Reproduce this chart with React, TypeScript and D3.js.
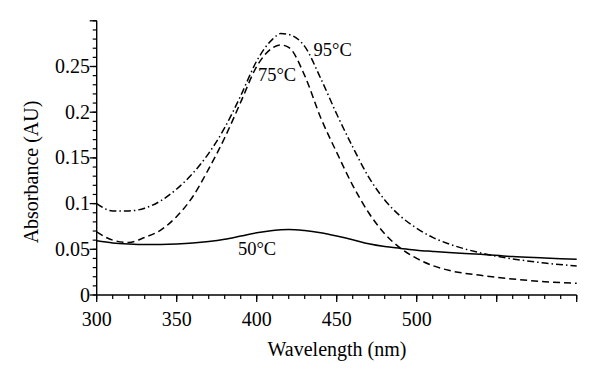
import React from "react";
import * as d3 from "d3";

const wavelengths = [300, 310, 320, 330, 340, 350, 360, 370, 380, 390, 400, 410, 415, 420, 430, 440, 450, 460, 470, 480, 490, 500, 510, 520, 540, 560, 580, 600];
const abs95 = [0.100, 0.092, 0.092, 0.095, 0.103, 0.116, 0.133, 0.155, 0.183, 0.218, 0.256, 0.280, 0.286, 0.285, 0.272, 0.237, 0.198, 0.162, 0.129, 0.104, 0.086, 0.073, 0.063, 0.056, 0.0460, 0.0395, 0.0350, 0.0317];
const abs75 = [0.069, 0.060, 0.0575, 0.063, 0.071, 0.086, 0.1075, 0.138, 0.172, 0.211, 0.250, 0.2705, 0.2735, 0.271, 0.240, 0.194, 0.156, 0.120, 0.090, 0.067, 0.051, 0.040, 0.0322, 0.027, 0.0215, 0.0175, 0.0145, 0.0128];
const abs50 = [0.0594, 0.057, 0.0558, 0.0552, 0.0553, 0.0558, 0.0568, 0.0585, 0.061, 0.0645, 0.068, 0.0705, 0.0715, 0.0718, 0.0705, 0.068, 0.0645, 0.0605, 0.056, 0.053, 0.051, 0.049, 0.0477, 0.0465, 0.0445, 0.042, 0.0405, 0.039];

const seriesNames = ["95°C", "75°C", "50°C"];
const xTickLabels = [300, 350, 400, 450, 500];
const yTickLabels = [0, 0.05, 0.1, 0.15, 0.2, 0.25];

const FONT = "'Liberation Serif', 'Times New Roman', serif";

export default function App() {
  const W = 600, H = 382;
  const x = d3.scaleLinear().domain([300, 600]).range([96.7, 576.7]);
  const y = d3.scaleLinear().domain([0, 0.3]).range([295, 20.8]);

  const mk = (vals: number[]) =>
    d3.line<number>()
      .x((_, i) => x(wavelengths[i]))
      .y((v) => y(v))
      .curve(d3.curveMonotoneX)(vals) || "";

  const series = [
    { name: seriesNames[0], vals: abs95, dash: "7,3,1.5,3" },
    { name: seriesNames[1], vals: abs75, dash: "7,4" },
    { name: seriesNames[2], vals: abs50, dash: "none" },
  ];

  const xMinor = d3.range(300, 601, 10);
  const xMajor = d3.range(300, 601, 50);
  const yMinor = d3.range(0, 31, 1).map((d) => d / 100);
  const yMajor = d3.range(0, 7, 1).map((d) => d * 0.05);

  const labelPos: Record<string, [number, number]> = {
    "95°C": [435.5, 0.261],
    "75°C": [400.8, 0.234],
    "50°C": [388.3, 0.044],
  };

  const tick = { fontFamily: FONT, fontSize: 20 } as React.CSSProperties;
  const title = { fontFamily: FONT, fontSize: 20 } as React.CSSProperties;
  const lab = { fontFamily: FONT, fontSize: 18.5 } as React.CSSProperties;

  return (
    <svg width={W} height={H} style={{ position: "absolute", left: 0, top: 0, background: "#fff" }}>
      <rect width={W} height={H} fill="#fff" />
      {series.map((s) => (
        <path key={s.name} d={mk(s.vals)} fill="none" stroke="#000" strokeWidth={1.5}
          strokeDasharray={s.dash === "none" ? undefined : s.dash} />
      ))}
      <line x1={x(300)} x2={x(600)} y1={y(0)} y2={y(0)} stroke="#000" strokeWidth={1.4} />
      <line x1={x(300)} x2={x(300)} y1={y(0)} y2={y(0.3)} stroke="#000" strokeWidth={1.4} />
      {xMinor.map((t) => (
        <line key={"xm" + t} x1={x(t)} x2={x(t)} y1={y(0)} y2={y(0) + 4} stroke="#000" strokeWidth={1.2} />
      ))}
      {xMajor.map((t) => (
        <line key={"xM" + t} x1={x(t)} x2={x(t)} y1={y(0)} y2={y(0) + 7} stroke="#000" strokeWidth={1.3} />
      ))}
      {yMinor.map((t) => (
        <line key={"ym" + t} x1={x(300) - 4} x2={x(300)} y1={y(t)} y2={y(t)} stroke="#000" strokeWidth={1.2} />
      ))}
      {yMajor.map((t) => (
        <line key={"yM" + t} x1={x(300) - 7} x2={x(300)} y1={y(t)} y2={y(t)} stroke="#000" strokeWidth={1.3} />
      ))}
      {xTickLabels.map((t) => (
        <text key={"xl" + t} x={x(t)} y={326} textAnchor="middle" style={tick}>{t}</text>
      ))}
      {yTickLabels.map((t) => (
        <text key={"yl" + t} x={90} y={y(t) + 6.5} textAnchor="end" style={tick}>{String(t)}</text>
      ))}
      <text x={337} y={356} textAnchor="middle" style={title}>Wavelength (nm)</text>
      <text transform={`translate(38,172) rotate(-90)`} textAnchor="middle" style={title}>Absorbance (AU)</text>
      {series.map((s) => (
        <text key={"lab" + s.name} x={x(labelPos[s.name][0])} y={y(labelPos[s.name][1])} style={lab}>{s.name}</text>
      ))}
    </svg>
  );
}
